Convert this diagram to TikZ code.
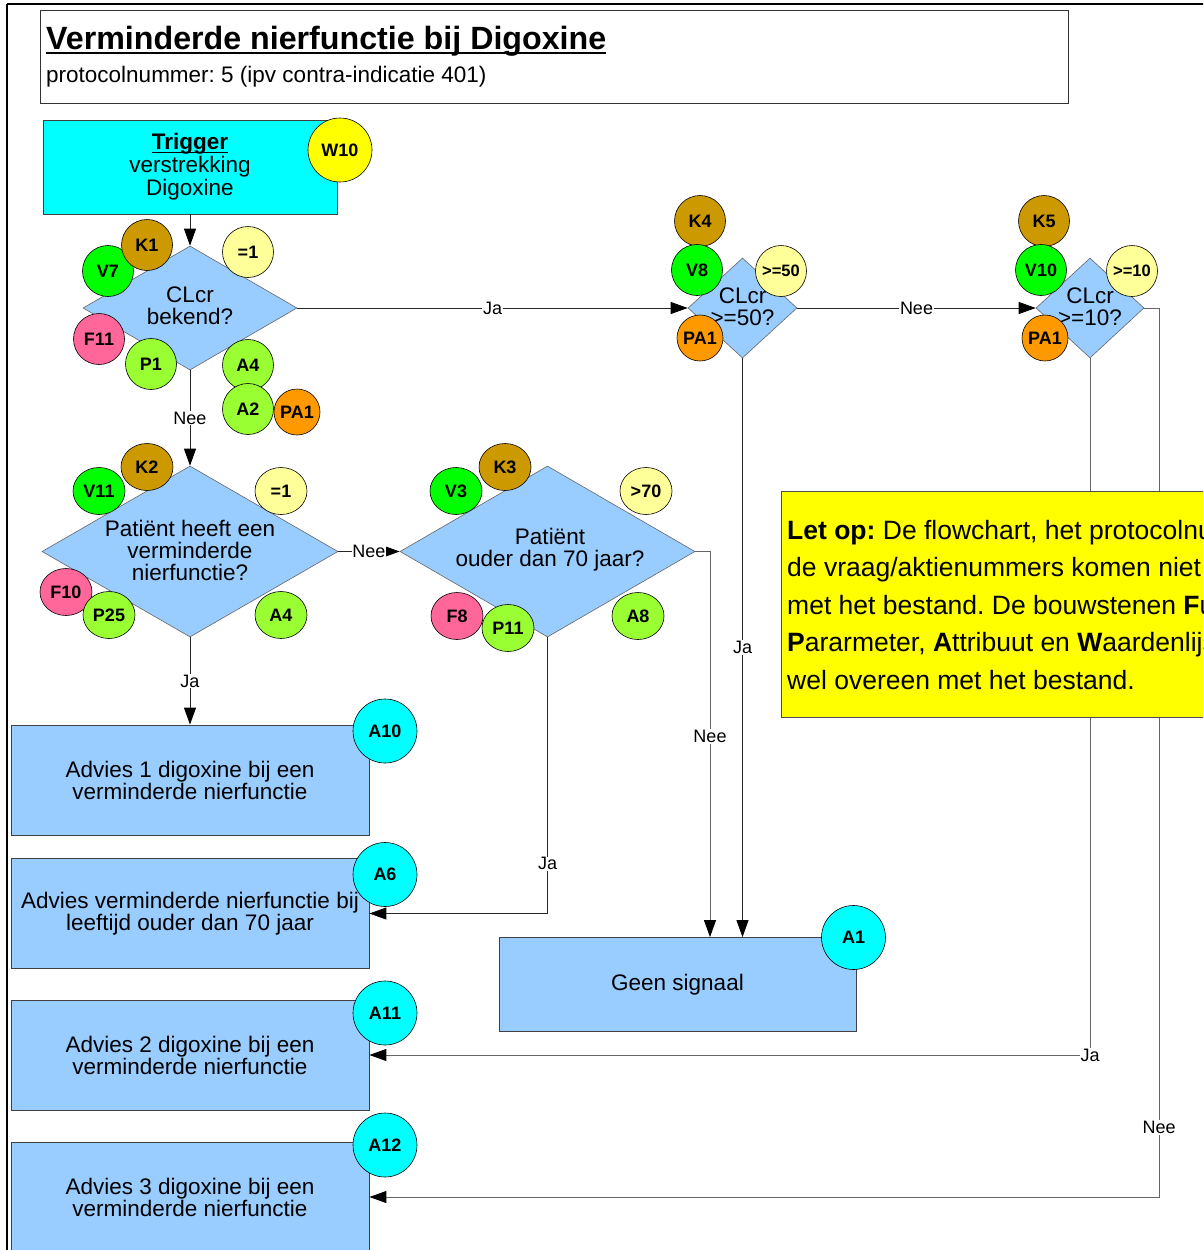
\documentclass[tikz,border=0pt]{standalone}
\usepackage{fontspec}
\setmainfont{Liberation Sans}
\usetikzlibrary{shapes.geometric,arrows.meta}
\definecolor{cyanA}{HTML}{00FFFF}
\definecolor{lblue}{HTML}{99CCFF}
\definecolor{yelA}{HTML}{FFFF00}
\definecolor{lyel}{HTML}{FFFF99}
\definecolor{brownK}{HTML}{CC9900}
\definecolor{greenV}{HTML}{00FF00}
\definecolor{pinkF}{HTML}{FF6699}
\definecolor{lgreen}{HTML}{99FF33}
\definecolor{orangeP}{HTML}{FF9900}
\newcommand\fs[2]{\fontsize{#1}{#2}\selectfont}
\newcommand\myul[1]{\setbox0\hbox{#1}\rlap{\rule[-0.16em]{\wd0}{0.075em}}\box0}
\frenchspacing
\begin{document}
\begin{tikzpicture}[x=1pt,y=-1pt,
  box/.style={draw=black!75, line width=0.8pt, fill=lblue, inner sep=0pt, minimum width=358pt, minimum height=110pt, align=center, font=\fs{22.5}{22}},
  dia/.style={diamond, draw=black!60, line width=0.6pt, fill=lblue, inner sep=0pt},
  dtext/.style={align=center, inner sep=0pt, font=\fs{22.5}{22}},
  circ/.style={circle, draw=black, line width=0.6pt, inner sep=0pt, minimum size=51pt, font=\bfseries\fs{18}{18}},
  ell/.style={ellipse, draw=black, line width=0.6pt, inner sep=0pt, minimum width=52pt, minimum height=47pt, font=\bfseries\fs{18}{18}},
  bigc/.style={circ, minimum size=64pt, fill=cyanA},
  lbl/.style={fill=white, inner sep=1pt, font=\fs{18}{18}},
  con/.style={line width=0.9pt, draw=black!85},
  arr/.style={con, -{Triangle[length=17pt,width=12pt,black]}},
  notetxt/.style={inner sep=0pt, anchor=base west, font=\fs{26.5}{26}}
]
\useasboundingbox (0,0) rectangle (1203,1250);
\clip (0,0) rectangle (1203,1250);
\fill[white] (0,0) rectangle (1203,1250);
% outer frame
\draw[line width=2.5pt] (7,4) -- (1210,4);
\draw[line width=2pt] (7,4) -- (7,1260);
% title
\node[draw=black!80, line width=0.9pt, minimum width=1028pt, minimum height=93pt, inner sep=0pt] (tbox) at (554,56.5) {};
\node[anchor=base west, inner sep=0pt, font=\bfseries\fs{32.2}{32}] (title) at (46,49) {\myul{Verminderde nierfunctie bij Digoxine}};
\node[anchor=base west, inner sep=0pt, font=\fs{22.5}{22}] (sub) at (46,82) {protocolnummer: 5 (ipv contra-indicatie 401)};
% trigger
\node[draw=black!75, line width=0.8pt, fill=cyanA, minimum width=294pt, minimum height=94pt, inner sep=0pt, align=center, font=\fs{22.5}{23}] (trig) at (190,167) {\textbf{\myul{Trigger}}\\verstrekking\\Digoxine};
\node[circ, minimum size=64pt, fill=yelA] (w10) at (340,150) {W10};
% diamonds
\node[dia, minimum width=214pt, minimum height=124pt] (d1) at (190,308) {};
\node[dtext] (d1t) at (190,306) {CLcr\\bekend?};
\node[dia, minimum width=109pt, minimum height=100pt] (d3) at (742.5,308) {};
\node[dtext] (d3t) at (742.5,307) {CLcr\\>=50?};
\node[dia, minimum width=108pt, minimum height=100pt] (d4) at (1090,308) {};
\node[dtext] (d4t) at (1090,307) {CLcr\\>=10?};
\node[dia, minimum width=296pt, minimum height=171pt] (d2) at (190,551.5) {};
\node[dtext] (d2t) at (190,550) {Patiënt heeft een\\verminderde\\nierfunctie?};
\node[dia, minimum width=295pt, minimum height=171pt] (d5) at (547.5,551.5) {};
\node[dtext] (d5t) at (550,550) {Patiënt\\ouder dan 70 jaar?};
% boxes
\node[box] (a10b) at (190,780) {Advies 1 digoxine bij een\\verminderde nierfunctie};
\node[box] (a6b) at (190,913.5) {Advies verminderde nierfunctie bij\\leeftijd ouder dan 70 jaar};
\node[box] (a11b) at (190,1055) {Advies 2 digoxine bij een\\verminderde nierfunctie};
\node[box] (a12b) at (190,1197) {Advies 3 digoxine bij een\\verminderde nierfunctie};
\node[box, minimum width=357pt, minimum height=94pt] (gs) at (677.5,984.5) {Geen signaal};
% connectors
\coordinate (c5) at (710,551.5);
\coordinate (c4) at (1159,308);
\draw[arr] (trig.south) -- (d1.north);
\draw[arr] (d1.east) -- node[lbl] (l1) {Ja} (d3.west);
\draw[arr] (d3.east) -- node[lbl] (l2) {Nee} (d4.west);
\draw[arr] (d1.south) -- node[lbl] (l3) {Nee} (d2.north);
\draw[arr] (d2.east) -- node[lbl, inner sep=0.5pt] (l4) {Nee} (d5.west);
\draw[arr] (d2.south) -- node[lbl] (l5) {Ja} (a10b.north);
\draw[arr, draw=black!60] (d5.east) -- (c5) -- node[lbl, pos=0.48] (l6) {Nee} (c5 |- gs.north);
\draw[arr] (d3.south) -- node[lbl] (l7) {Ja} (d3.south |- gs.north);
\draw[arr] (d5.south) |- node[lbl, pos=0.41] (l8) {Ja} (a6b.east);
\draw[arr, draw=black!60] (d4.south) |- node[lbl, pos=0.5, inner sep=0.5pt] (l9) {Ja} (a11b.east);
\draw[arr, draw=black!60] (d4.east) -- (c4) |- node[lbl, pos=0.461] (l10) {Nee} (a12b.east);
% note
\node[draw=black!70, line width=0.8pt, fill=yelA, minimum width=440pt, minimum height=226pt, inner sep=0pt, anchor=north west] (note) at (781,491) {};
\node[notetxt] (n1) at (787,539) {\textbf{Let op:} De flowchart, het protocolnummer};
\node[notetxt] (n2) at (787,576.5) {de vraag/aktienummers komen niet};
\node[notetxt] (n3) at (787,614) {met het bestand. De bouwstenen \textbf{F}unctie,};
\node[notetxt] (n4) at (787,651.5) {\textbf{P}ararmeter, \textbf{A}ttribuut en \textbf{W}aardenlijst};
\node[notetxt] (n5) at (787,689) {wel overeen met het bestand.};
% circles around d1
\node[circ, fill=greenV] (v7) at (108,271) {V7};
\node[circ, fill=brownK] (k1) at (147,245) {K1};
\node[circ, fill=lyel] (e1a) at (248,252) {=1};
\node[circ, fill=pinkF] (f11) at (99,339) {F11};
\node[circ, fill=lgreen] (p1) at (151,364) {P1};
\node[circ, fill=lgreen] (a4a) at (248,365) {A4};
\node[circ, fill=lgreen] (a2) at (248,409) {A2};
\node[circ, minimum size=46pt, fill=orangeP] (pa1a) at (297,412) {PA1};
% circles around d3
\node[circ, fill=brownK] (k4) at (700,221) {K4};
\node[circ, fill=greenV] (v8) at (697,270) {V8};
\node[circ, fill=lyel, font=\bfseries\fs{16.5}{16}] (g50) at (781,271) {>=50};
\node[circ, minimum size=46pt, fill=orangeP] (pa1b) at (700,338) {PA1};
% circles around d4
\node[circ, fill=brownK] (k5) at (1044,221) {K5};
\node[circ, fill=greenV] (v10) at (1041,270) {V10};
\node[circ, fill=lyel, font=\bfseries\fs{16.5}{16}] (g10) at (1132,271) {>=10};
\node[circ, minimum size=46pt, fill=orangeP] (pa1c) at (1045,338) {PA1};
% circles around d2
\node[ell, fill=greenV] (v11) at (99,491) {V11};
\node[ell, fill=brownK] (k2) at (147,467) {K2};
\node[ell, fill=lyel] (e1b) at (281,491) {=1};
\node[ell, fill=pinkF] (f10) at (66,592) {F10};
\node[ell, fill=lgreen] (p25) at (109,615) {P25};
\node[ell, fill=lgreen] (a4b) at (281,615) {A4};
% circles around d5
\node[ell, fill=greenV] (v3) at (456,491) {V3};
\node[ell, fill=brownK] (k3) at (505,467) {K3};
\node[ell, fill=lyel] (g70) at (646,491) {>70};
\node[ell, fill=pinkF] (f8) at (457,616) {F8};
\node[ell, fill=lgreen] (p11) at (508,628) {P11};
\node[ell, fill=lgreen] (a8) at (638,616) {A8};
% action circles
\node[bigc] (a10) at (385,731) {A10};
\node[bigc] (a6) at (385,874.5) {A6};
\node[bigc] (a11) at (385,1013) {A11};
\node[bigc] (a12) at (385,1145) {A12};
\node[bigc] (a1) at (853.5,937.5) {A1};
\end{tikzpicture}
\end{document}
